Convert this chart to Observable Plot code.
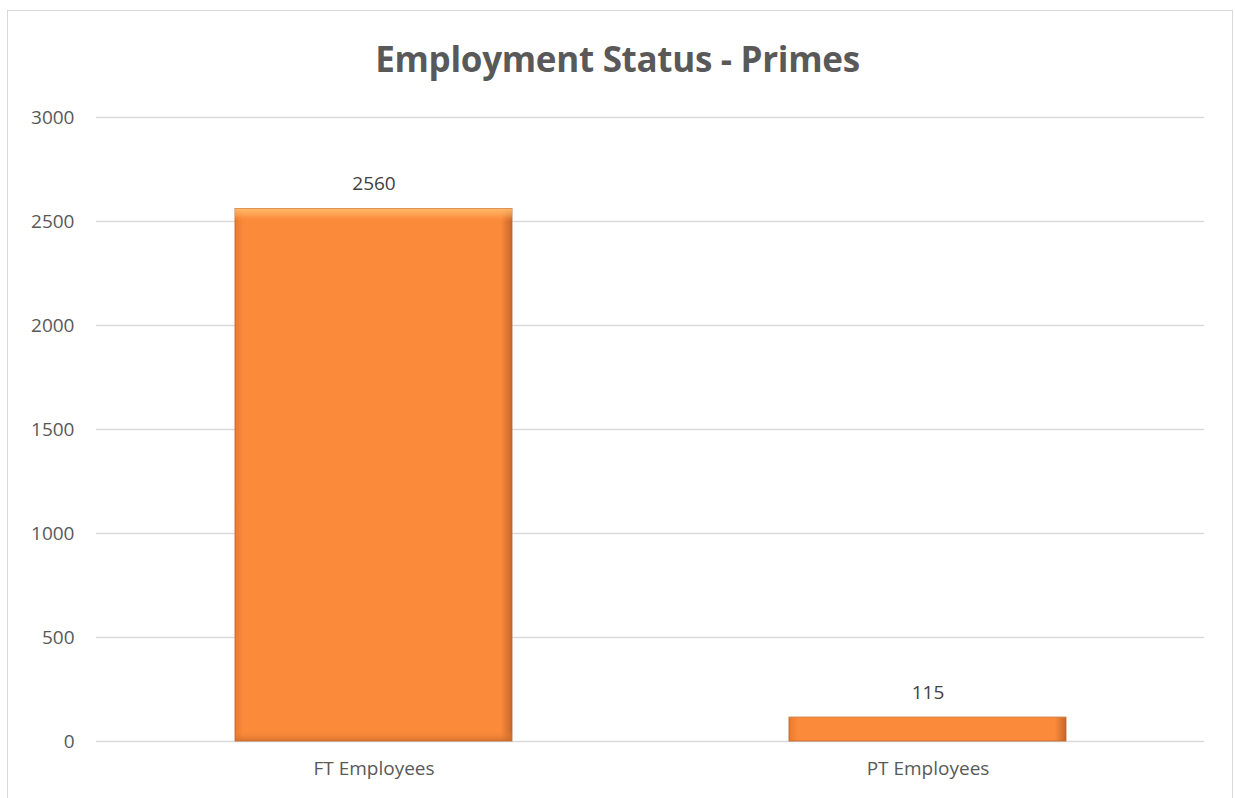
<!DOCTYPE html>
<html>
<head>
<meta charset="utf-8">
<script src="https://cdn.jsdelivr.net/npm/d3@7"></script>
<script src="https://cdn.jsdelivr.net/npm/@observablehq/plot@0.6"></script>
<style>
  html, body { margin: 0; padding: 0; background: #fff; overflow: hidden; }
  body { width: 1235px; height: 798px; position: relative; font-family: "Open Sans", "Noto Sans", sans-serif; }
  #frame { position: absolute; left: 7px; top: 10px; width: 1226px; height: 800px; border: 1.5px solid #d9d9d9; box-sizing: border-box; }
  #title { position: absolute; left: 0; width: 1235px; top: 35px; text-align: center; font-size: 35px; line-height: 48px; font-weight: bold; color: #595959; font-family: "Open Sans", sans-serif; letter-spacing: -0.3px; }
  #chart { position: absolute; left: 0; top: 0; }
</style>
</head>
<body>
<div id="frame"></div>
<div id="title">Employment Status - Primes</div>
<div id="chart"></div>
<script>
const categories = ["FT Employees", "PT Employees"];
const values = [2560, 115];
const yTicks = [0, 500, 1000, 1500, 2000, 2500, 3000];

const data = categories.map((c, i) => ({category: c, value: values[i]}));

const plot = Plot.plot({
  width: 1235,
  height: 798,
  marginLeft: 96,
  marginRight: 31,
  marginTop: 117,
  marginBottom: 57,
  style: {fontFamily: "'Open Sans', sans-serif", fontSize: "19px", color: "#595959", background: "transparent"},
  x: {domain: categories, paddingInner: 0.5, paddingOuter: 0.25, label: null},
  y: {domain: [0, 3000], label: null},
  marks: [
    Plot.ruleY(yTicks, {stroke: "#d9d9d9", strokeWidth: 1.3}),
    Plot.barY(data, {x: "category", y: "value", fill: "url(#barGradH)", stroke: "#b8612a", strokeWidth: 0.8}),
    Plot.barY(data, {x: "category", y: "value", fill: "url(#barGradV)"}),
    Plot.text(data, {x: "category", y: "value", text: d => String(d.value), dy: -25, fill: "#404040", fontSize: 19}),
    Plot.axisX({tickSize: 0, tickPadding: 20, fontSize: 19, fill: "#595959"}),
    Plot.axisY({ticks: yTicks, tickFormat: "d", tickSize: 0, tickPadding: 22, fontSize: 19, fill: "#595959"})
  ]
});

const ns = "http://www.w3.org/2000/svg";
const defs = document.createElementNS(ns, "defs");
defs.innerHTML = `
  <linearGradient id="barGradH" x1="0" x2="1" y1="0" y2="0">
    <stop offset="0" stop-color="#e97a2f"/>
    <stop offset="0.03" stop-color="#fb8a3a"/>
    <stop offset="0.96" stop-color="#fb8a3a"/>
    <stop offset="1" stop-color="#c4672a"/>
  </linearGradient>
  <linearGradient id="barGradV" x1="0" x2="0" y1="0" y2="1">
    <stop offset="0" stop-color="#ffc070" stop-opacity="0.9"/>
    <stop offset="0.012" stop-color="#ffb060" stop-opacity="0.6"/>
    <stop offset="0.025" stop-color="#fb8a3a" stop-opacity="0"/>
    <stop offset="0.98" stop-color="#fb8a3a" stop-opacity="0"/>
    <stop offset="1" stop-color="#c8692b" stop-opacity="0.7"/>
  </linearGradient>`;
plot.insertBefore(defs, plot.firstChild);
document.getElementById("chart").appendChild(plot);
</script>
</body>
</html>
